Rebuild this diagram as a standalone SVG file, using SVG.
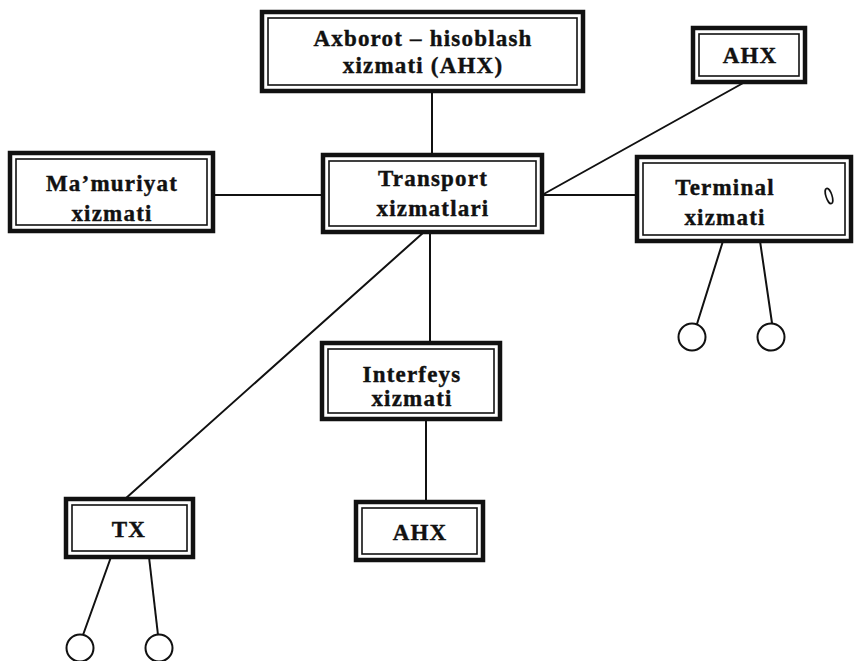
<svg xmlns="http://www.w3.org/2000/svg" width="857" height="661" viewBox="0 0 857 661">
  <style>
    .frame { fill: #fff; stroke: #111; stroke-width: 4.5; }
    .inner { fill: none; stroke: #111; stroke-width: 1.6; }
    .lbl { font-family: "Liberation Serif", "Times New Roman", serif; font-weight: bold; font-size: 23px; letter-spacing: 1.2px; fill: #111; stroke: #111; stroke-width: 0.4; text-anchor: middle; }
    .wire { stroke: #111; stroke-width: 2; fill: none; stroke-linecap: round; }
    .term { fill: #fff; stroke: #111; stroke-width: 2; }
  </style>

  <!-- connectors -->
  <g id="connectors">
    <line class="wire" x1="432" y1="91" x2="432" y2="155"/>
    <line class="wire" x1="213" y1="195" x2="323" y2="195"/>
    <line class="wire" x1="542" y1="195" x2="637" y2="195"/>
    <line class="wire" x1="745" y1="82" x2="542" y2="195"/>
    <line class="wire" x1="430" y1="232" x2="430" y2="343"/>
    <line class="wire" x1="424" y1="232" x2="125" y2="499"/>
    <line class="wire" x1="426" y1="419" x2="426" y2="502"/>
    <line class="wire" x1="723" y1="241" x2="697" y2="324"/>
    <line class="wire" x1="760" y1="241" x2="772" y2="323"/>
    <line class="wire" x1="111" y1="557" x2="83" y2="635"/>
    <line class="wire" x1="149" y1="557" x2="158" y2="635"/>
  </g>

  <!-- terminal circles -->
  <g id="terminals">
    <circle class="term" cx="692" cy="337" r="13.5"/>
    <circle class="term" cx="771" cy="337" r="13.5"/>
    <circle class="term" cx="80" cy="648" r="13.5"/>
    <circle class="term" cx="159" cy="648" r="13.5"/>
  </g>

  <g id="axborot">
    <rect class="frame" x="262" y="12" width="321" height="79"/>
    <rect class="inner" x="268" y="18" width="309" height="67"/>
    <text class="lbl" x="423" y="46">Axborot – hisoblash</text>
    <text class="lbl" x="423" y="73">xizmati (AHX)</text>
  </g>

  <g id="ahx-top">
    <rect class="frame" x="693" y="28" width="112" height="54"/>
    <rect class="inner" x="699" y="34" width="100" height="42"/>
    <text class="lbl" x="750" y="63">AHX</text>
  </g>

  <g id="mamuriyat">
    <rect class="frame" x="10" y="153" width="203" height="78"/>
    <rect class="inner" x="16" y="159" width="191" height="66"/>
    <text class="lbl" x="112" y="191">Ma’muriyat</text>
    <text class="lbl" x="112" y="221">xizmati</text>
  </g>

  <g id="transport">
    <rect class="frame" x="323" y="155" width="219" height="77"/>
    <rect class="inner" x="329" y="161" width="207" height="65"/>
    <text class="lbl" x="433" y="186">Transport</text>
    <text class="lbl" x="433" y="216">xizmatlari</text>
  </g>

  <g id="terminal">
    <rect class="frame" x="637" y="157" width="214" height="84"/>
    <rect class="inner" x="643" y="163" width="202" height="72"/>
    <text class="lbl" x="725" y="195">Terminal</text>
    <text class="lbl" x="725" y="225">xizmati</text>
    <ellipse cx="829" cy="196" rx="3" ry="8" transform="rotate(-18 829 196)" fill="#fff" stroke="#111" stroke-width="1.6"/>
  </g>

  <g id="interfeys">
    <rect class="frame" x="322" y="343" width="178" height="76"/>
    <rect class="inner" x="328" y="349" width="166" height="64"/>
    <text class="lbl" x="412" y="382">Interfeys</text>
    <text class="lbl" x="412" y="406">xizmati</text>
  </g>

  <g id="tx">
    <rect class="frame" x="66" y="499" width="127" height="58"/>
    <rect class="inner" x="72" y="505" width="115" height="46"/>
    <text class="lbl" x="129" y="537">TX</text>
  </g>

  <g id="ahx-bottom">
    <rect class="frame" x="356" y="502" width="127" height="58"/>
    <rect class="inner" x="362" y="508" width="115" height="46"/>
    <text class="lbl" x="420" y="540">AHX</text>
  </g>
</svg>
